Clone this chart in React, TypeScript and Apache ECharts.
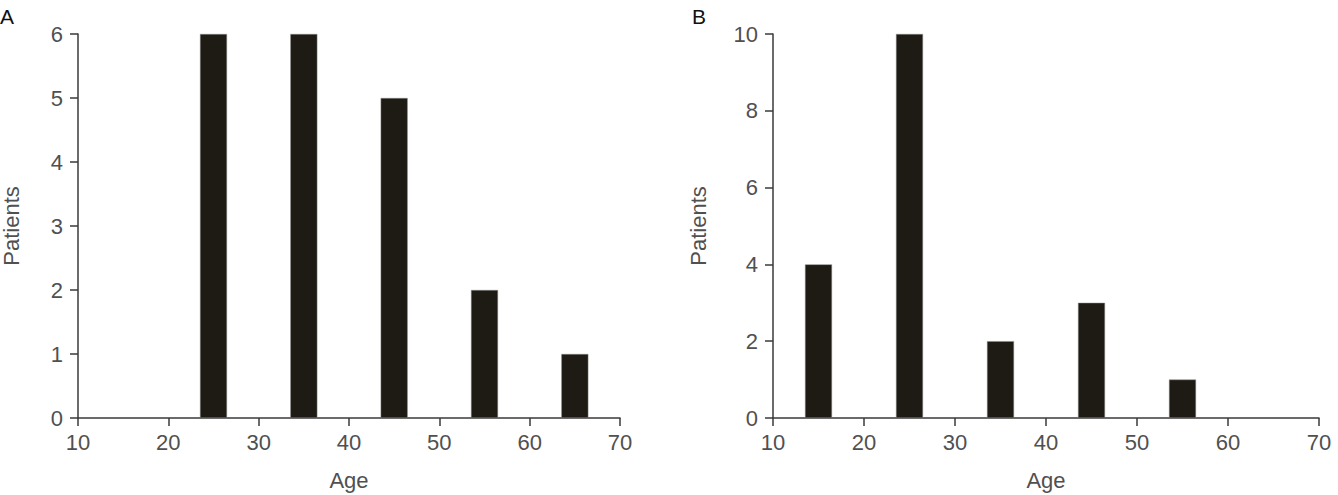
import React, { useEffect, useRef } from "react";
import * as echarts from "echarts";

const agesA = [25, 35, 45, 55, 65];
const patientsA = [6, 6, 5, 2, 1];
const agesB = [15, 25, 35, 45, 55];
const patientsB = [4, 10, 2, 3, 1];
const xTicks = [10, 20, 30, 40, 50, 60, 70];

const font = "Liberation Sans, Arial, sans-serif";
const labelColor = "#505050";
const lineColor = "#3a3a3a";
const barColor = "#1e1a14";

export default function App() {
  const ref = useRef<HTMLDivElement>(null);
  useEffect(() => {
    const chart = echarts.init(ref.current!, null, { renderer: "svg" });
    const xAxisBase = (gridIndex: number) => ({
      type: "value" as const,
      gridIndex,
      min: xTicks[0],
      max: xTicks[xTicks.length - 1],
      interval: 10,
      name: "Age",
      nameLocation: "middle" as const,
      nameGap: 51,
      nameTextStyle: { color: labelColor, fontSize: 22, fontFamily: font },
      axisLine: { show: true, lineStyle: { color: lineColor, width: 1.5 } },
      axisTick: { show: true, inside: false, length: 8, lineStyle: { color: lineColor, width: 1.5 } },
      axisLabel: { color: labelColor, fontSize: 22, fontFamily: font, margin: 13 },
      splitLine: { show: false },
    });
    const yAxisBase = (gridIndex: number, max: number, interval: number, gap: number) => ({
      type: "value" as const,
      gridIndex,
      min: 0,
      max,
      interval,
      name: "Patients",
      nameLocation: "middle" as const,
      nameRotate: 90,
      nameGap: gap,
      nameTextStyle: { color: labelColor, fontSize: 22, fontFamily: font },
      axisLine: { show: true, lineStyle: { color: lineColor, width: 1.5 } },
      axisTick: { show: true, inside: false, length: 8, lineStyle: { color: lineColor, width: 1.5 } },
      axisLabel: { color: labelColor, fontSize: 22, fontFamily: font, margin: 15 },
      splitLine: { show: false },
    });
    chart.setOption({
      animation: false,
      grid: [
        { left: 78, top: 34, width: 542, bottom: 77, containLabel: false, outerBoundsMode: "none" },
        { left: 773, top: 34, width: 546, bottom: 77, containLabel: false, outerBoundsMode: "none" },
      ],
      xAxis: [xAxisBase(0), xAxisBase(1)],
      yAxis: [yAxisBase(0, 6, 1, 56), yAxisBase(1, 10, 2, 64)],
      series: [
        {
          type: "bar",
          xAxisIndex: 0,
          yAxisIndex: 0,
          barWidth: 27,
          data: agesA.map((a, i) => [a, patientsA[i]]),
          itemStyle: { color: barColor, borderColor: "#8a8a8a", borderWidth: 0.5 },
        },
        {
          type: "bar",
          xAxisIndex: 1,
          yAxisIndex: 1,
          barWidth: 27,
          data: agesB.map((a, i) => [a, patientsB[i]]),
          itemStyle: { color: barColor, borderColor: "#8a8a8a", borderWidth: 0.5 },
        },
      ],
      graphic: [
        { type: "text", x: 0, y: 6, style: { text: "A", font: "21px 'Liberation Sans'", fill: "#111" } },
        { type: "text", x: 692, y: 6, style: { text: "B", font: "21px 'Liberation Sans'", fill: "#111" } },
      ],
    });
    return () => chart.dispose();
  }, []);
  return (
    <div
      ref={ref}
      style={{ position: "absolute", left: 0, top: 0, width: 1338, height: 495, background: "#fff" }}
    />
  );
}
